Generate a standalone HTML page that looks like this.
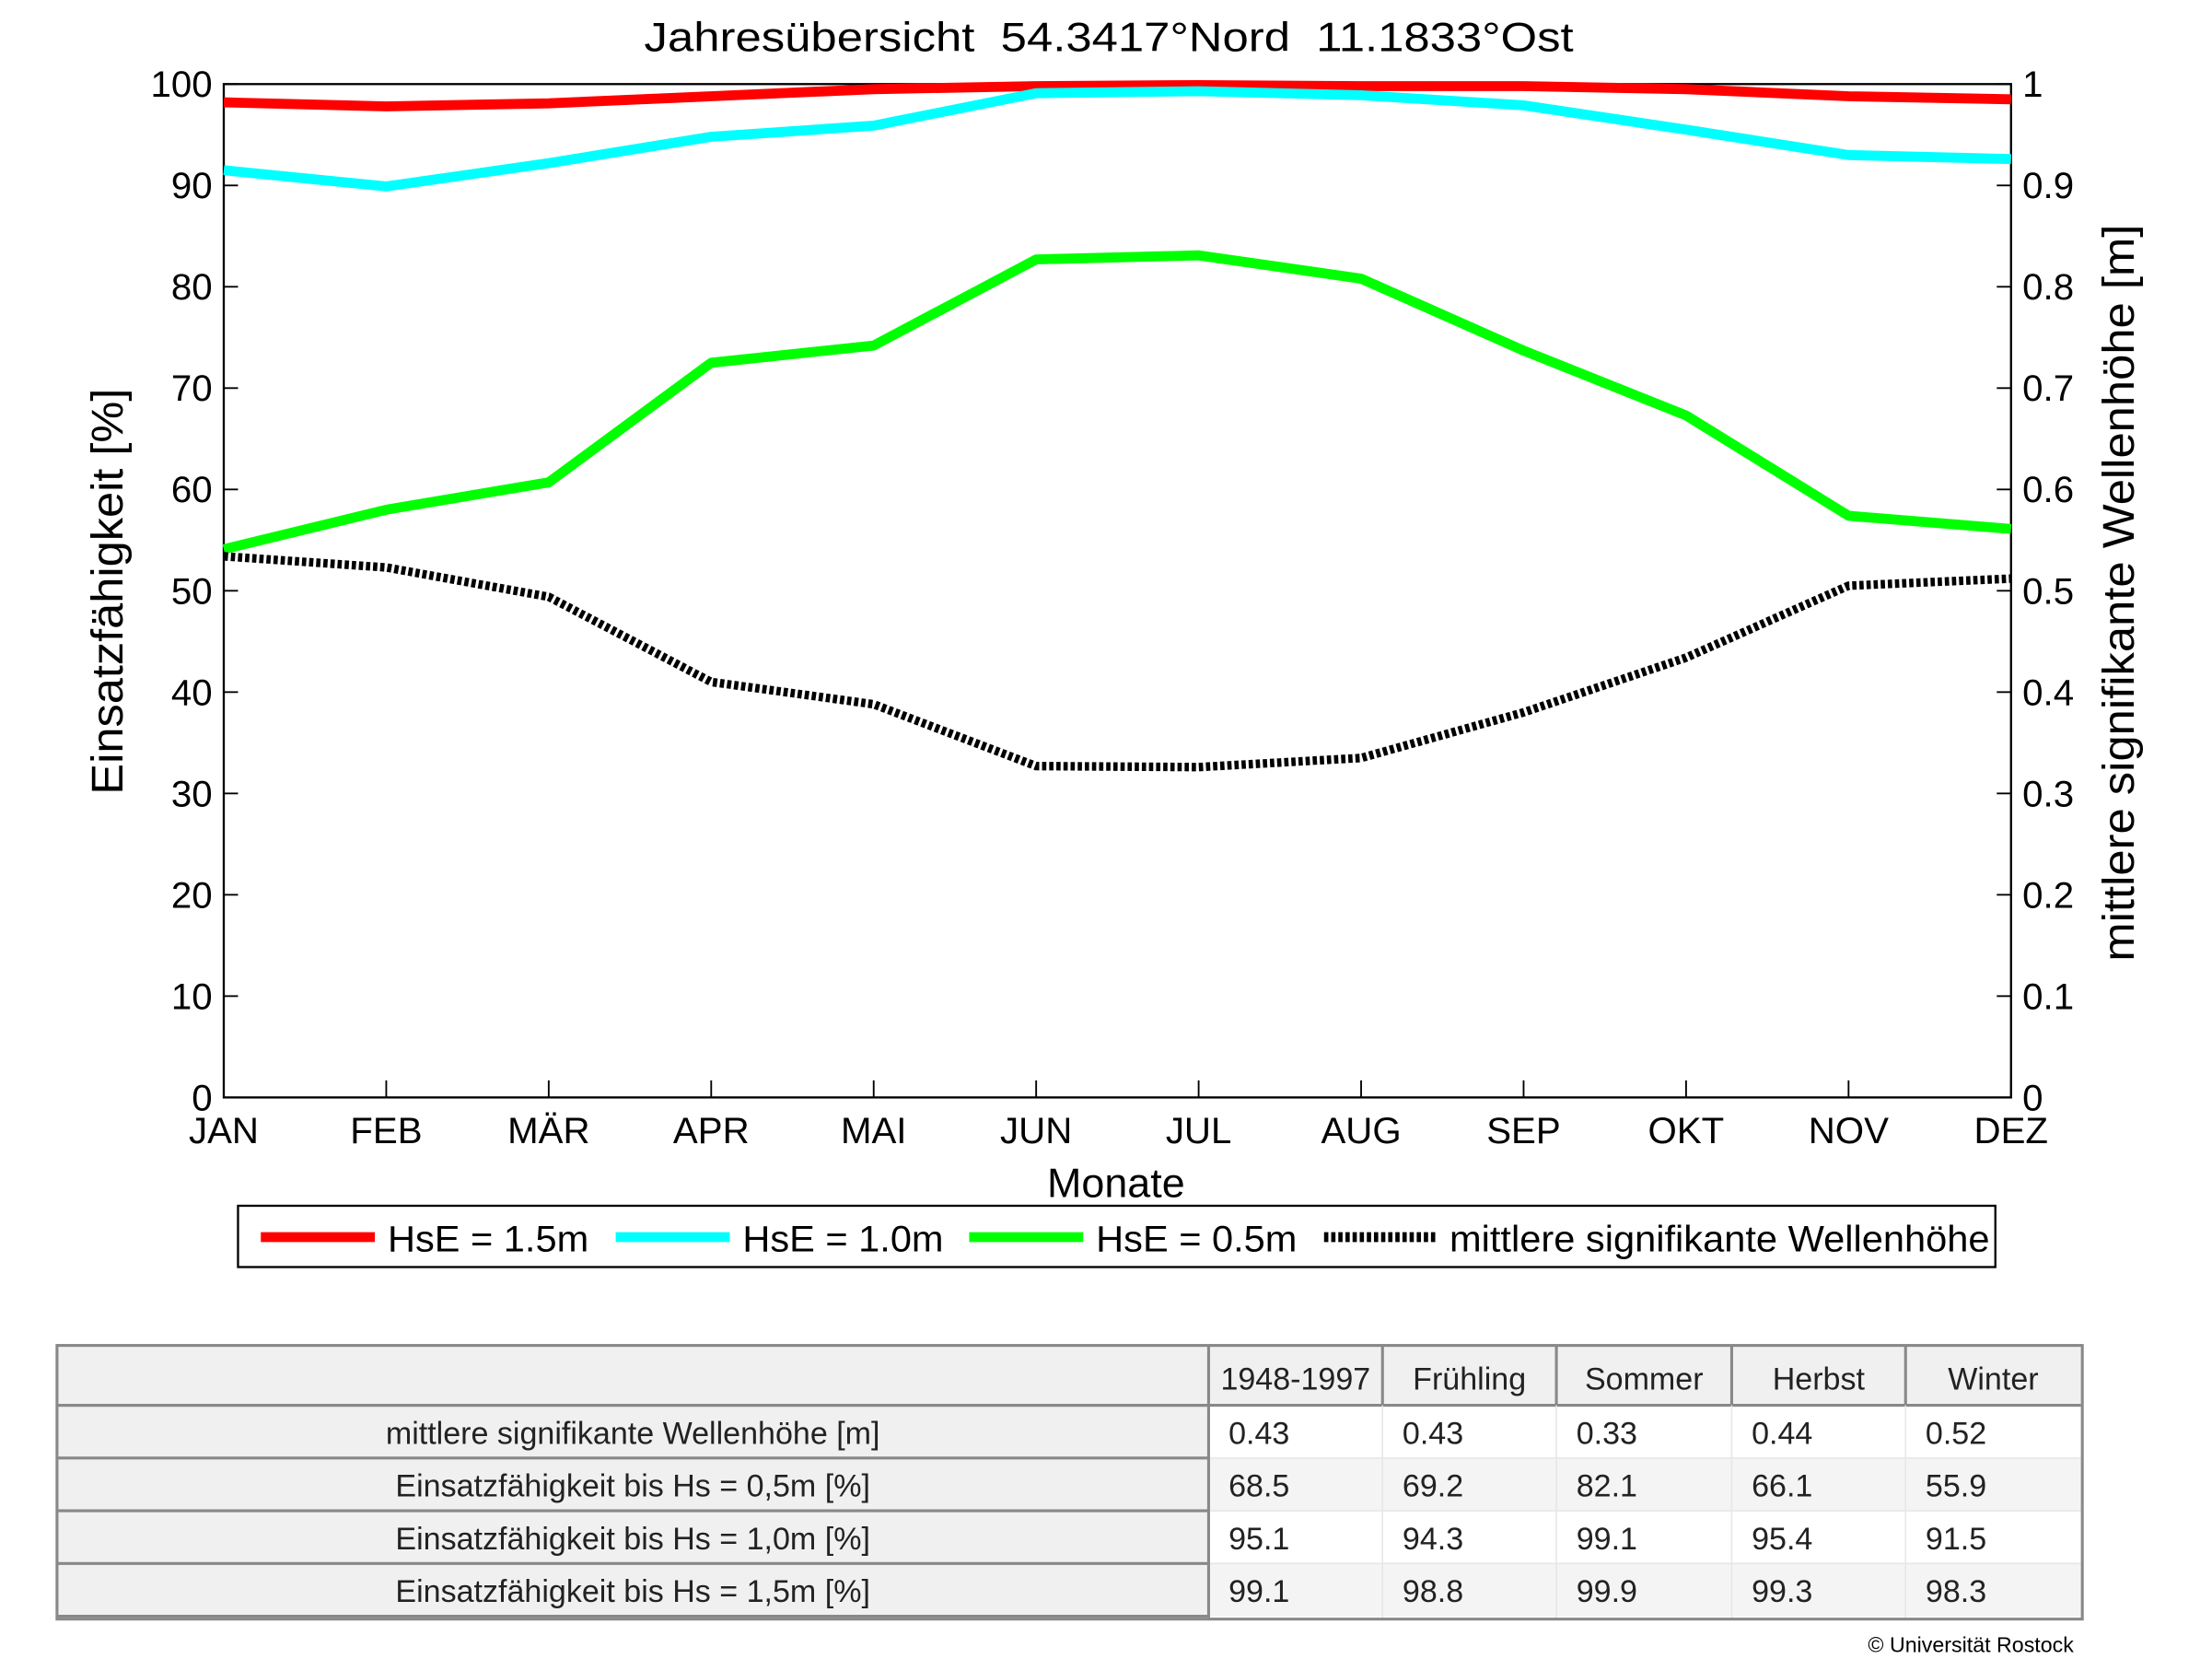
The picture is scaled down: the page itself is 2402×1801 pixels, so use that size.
<!DOCTYPE html>
<html><head><meta charset="utf-8"><style>
html,body{margin:0;padding:0;background:#fff;}
svg{display:block;}
text{font-family:"Liberation Sans",sans-serif;}
.tbl{font-family:"Liberation Sans",sans-serif;font-size:22px;fill:#222;}
</style></head><body>
<svg id="chart" width="2402" height="1801" viewBox="0 0 1552 1164" preserveAspectRatio="none">
<text x="778" y="36" font-size="29" text-anchor="middle" textLength="652" lengthAdjust="spacingAndGlyphs">Jahresübersicht&#160;&#160;54.3417°Nord&#160;&#160;11.1833°Ost</text>
<rect x="157" y="59" width="1254" height="711" fill="#fff" stroke="#000" stroke-width="1.5"/>
<g id="axes"></g>
<g id="series"></g>
<text transform="translate(86,415) rotate(-90)" font-size="31" text-anchor="middle" textLength="285" lengthAdjust="spacingAndGlyphs">Einsatzfähigkeit [%]</text>
<text transform="translate(1497,416) rotate(-90)" font-size="31" text-anchor="middle" textLength="517" lengthAdjust="spacingAndGlyphs">mittlere signifikante Wellenhöhe [m]</text>
<text x="783" y="840" font-size="29" text-anchor="middle">Monate</text>
<g>
<rect x="167" y="846" width="1233" height="43" fill="#fff" stroke="#000" stroke-width="1.5"/>
<line x1="183" y1="868" x2="263" y2="868" stroke="#f00" stroke-width="7"/>
<text x="272" y="878" font-size="26" textLength="141" lengthAdjust="spacingAndGlyphs">HsE = 1.5m</text>
<line x1="432" y1="868" x2="512" y2="868" stroke="#0ff" stroke-width="7"/>
<text x="521" y="878" font-size="26" textLength="141" lengthAdjust="spacingAndGlyphs">HsE = 1.0m</text>
<line x1="680" y1="868" x2="760" y2="868" stroke="#0f0" stroke-width="7"/>
<text x="769" y="878" font-size="26" textLength="141" lengthAdjust="spacingAndGlyphs">HsE = 0.5m</text>
<line x1="929" y1="868" x2="1008" y2="868" stroke="#000" stroke-width="7" stroke-dasharray="3,2"/>
<text x="1017" y="878" font-size="26" textLength="379" lengthAdjust="spacingAndGlyphs">mittlere signifikante Wellenhöhe</text>
</g>
<g id="table"></g>
<text x="1455" y="1159" font-size="15" text-anchor="end">© Universität Rostock</text>
</svg>
<script>
const months=["JAN","FEB","MÄR","APR","MAI","JUN","JUL","AUG","SEP","OKT","NOV","DEZ"];
const leftTicks=[0,10,20,30,40,50,60,70,80,90,100];
const rightTicks=["0","0.1","0.2","0.3","0.4","0.5","0.6","0.7","0.8","0.9","1"];
const hs15=[98.2,97.8,98.1,98.8,99.5,99.8,99.9,99.8,99.8,99.5,98.8,98.5];
const hs10=[91.5,89.9,92.2,94.8,95.9,99.1,99.3,98.9,97.9,95.5,93.0,92.6];
const hs05=[54.1,58.0,60.7,72.5,74.2,82.7,83.1,80.8,73.7,67.3,57.4,56.1];
const waveH=[0.534,0.523,0.494,0.410,0.388,0.327,0.326,0.335,0.380,0.434,0.505,0.512];
const tableHead=["1948-1997","Frühling","Sommer","Herbst","Winter"];
const rowLabels=["mittlere signifikante Wellenhöhe [m]","Einsatzfähigkeit bis Hs = 0,5m [%]","Einsatzfähigkeit bis Hs = 1,0m [%]","Einsatzfähigkeit bis Hs = 1,5m [%]"];
const rowWave=["0.43","0.43","0.33","0.44","0.52"];
const row05=["68.5","69.2","82.1","66.1","55.9"];
const row10=["95.1","94.3","99.1","95.4","91.5"];
const row15=["99.1","98.8","99.9","99.3","98.3"];

const NS="http://www.w3.org/2000/svg";
const X0=157,X1=1411,Y0=770,Y1=59;
const xs=i=>X0+(X1-X0)*i/(months.length-1);
const yl=v=>Y0-(Y0-Y1)*v/100;
const yr=v=>Y0-(Y0-Y1)*v/1;
function mk(tag,attrs,parent){const e=document.createElementNS(NS,tag);for(const k in attrs)e.setAttribute(k,attrs[k]);parent.appendChild(e);return e;}
const axes=document.getElementById('axes');
leftTicks.forEach((t,i)=>{
  const y=yl(t);
  const l=mk('line',{x1:X0,y1:y,x2:X0+10,y2:y,stroke:'#000','stroke-width':1.2},axes);
  
  
  const r=mk('line',{x1:X1-10,y1:y,x2:X1,y2:y,stroke:'#000','stroke-width':1.2},axes);
  
  
  const tl=mk('text',{x:X0-8,y:y+9,'font-size':26,'text-anchor':'end'},axes);tl.textContent=t;
  
  
  const tr=mk('text',{x:X1+8,y:y+9,'font-size':26},axes);tr.textContent=rightTicks[i];
  
  
});
months.forEach((m,i)=>{
  const x=xs(i);
  const l=mk('line',{x1:x,y1:Y0,x2:x,y2:Y0-12,stroke:'#000','stroke-width':1.2},axes);
  
  
  const t=mk('text',{x:x,y:802,'font-size':26,'text-anchor':'middle'},axes);t.textContent=m;
  
  
});
const ser=document.getElementById('series');
function line(vals,yf,color,name,dash){
  const p=mk('polyline',{points:vals.map((v,i)=>xs(i)+','+yf(v)).join(' '),fill:'none',stroke:color,'stroke-width':dash?6:7,'stroke-linejoin':'round'},ser);
  if(dash)p.setAttribute('stroke-dasharray','3,2');
  
  
}
line(hs15,yl,'#f00','line-hse-1-5m');
line(hs10,yl,'#0ff','line-hse-1-0m');
line(hs05,yl,'#0f0','line-hse-0-5m');
line(waveH,yr,'#000','line-mean-wave-height',true);

const tb=document.getElementById('table');
const colX=[40,848,970,1092,1215,1337,1460];
const rowY=[944,986,1023,1060,1097,1134];
const dataRows=[rowWave,row05,row10,row15];
mk('rect',{x:40,y:944,width:1420,height:42,fill:'#f0f0f0'},tb);
for(let r=0;r<4;r++){
  mk('rect',{x:40,y:rowY[r+1],width:808,height:rowY[r+2]-rowY[r+1],fill:'#f0f0f0'},tb);
  mk('rect',{x:848,y:rowY[r+1],width:612,height:rowY[r+2]-rowY[r+1],fill:r%2?'#f4f4f4':'#fff'},tb);
  const lab=mk('text',{x:444,y:rowY[r+1]+27,'text-anchor':'middle',class:'tbl'},tb);lab.textContent=rowLabels[r];
  
  
  dataRows[r].forEach((v,c)=>{
    const t=mk('text',{x:colX[c+1]+14,y:rowY[r+1]+27,class:'tbl'},tb);t.textContent=v;
    
    
  });
  mk('line',{x1:40,y1:rowY[r+1],x2:848,y2:rowY[r+1],stroke:'#888','stroke-width':2},tb);
  mk('line',{x1:848,y1:rowY[r+1],x2:1460,y2:rowY[r+1],stroke:'#e6e6e6','stroke-width':1},tb);
}
tableHead.forEach((h,c)=>{
  const t=mk('text',{x:(colX[c+1]+colX[c+2])/2,y:975,'text-anchor':'middle',class:'tbl'},tb);t.textContent=h;
  
  
});
mk('line',{x1:40,y1:986,x2:1460,y2:986,stroke:'#888','stroke-width':2},tb);
mk('line',{x1:40,y1:1134,x2:848,y2:1134,stroke:'#888','stroke-width':2},tb);
for(let c=2;c<6;c++)mk('line',{x1:colX[c],y1:944,x2:colX[c],y2:986,stroke:'#888','stroke-width':2},tb);
for(let c=2;c<6;c++)mk('line',{x1:colX[c],y1:986,x2:colX[c],y2:1136,stroke:'#e6e6e6','stroke-width':1},tb);
mk('line',{x1:848,y1:944,x2:848,y2:1136,stroke:'#888','stroke-width':2},tb);
mk('rect',{x:40,y:944,width:1421,height:192,fill:'none',stroke:'#888','stroke-width':2},tb);
</script>
</body></html>
